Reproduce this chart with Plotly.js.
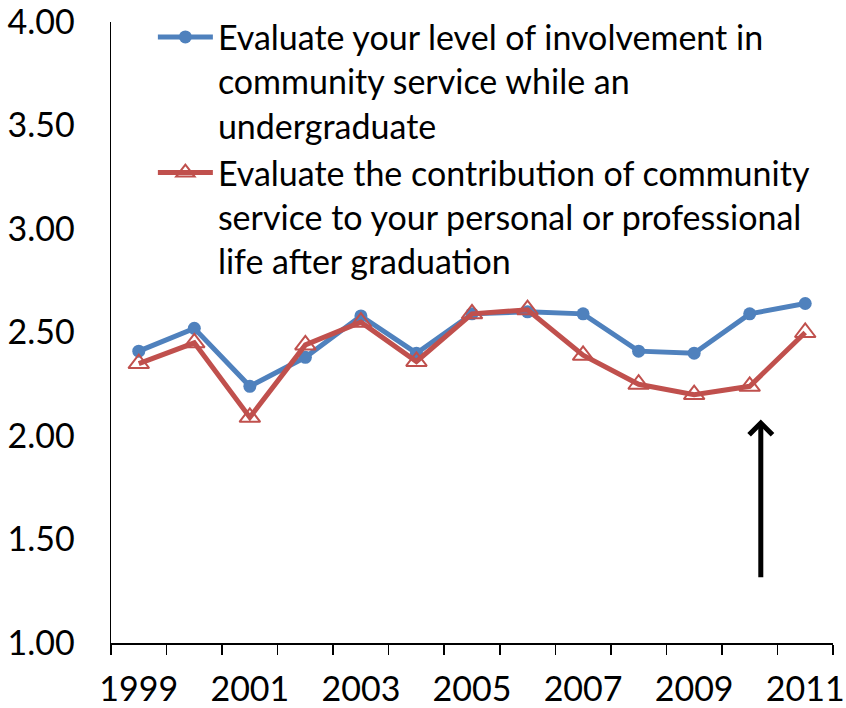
<!DOCTYPE html>
<html>
<head>
<meta charset="utf-8">
<script src="https://cdn.plot.ly/plotly-3.0.1.min.js"></script>
<style>html,body{margin:0;padding:0;background:#fff;}#chart{width:846px;height:708px;}</style>
</head>
<body>
<div id="chart"></div>
<script>
const years = [1999, 2000, 2001, 2002, 2003, 2004, 2005, 2006, 2007, 2008, 2009, 2010, 2011];
const involvement = [2.41, 2.52, 2.24, 2.38, 2.58, 2.40, 2.59, 2.60, 2.59, 2.41, 2.40, 2.59, 2.64];
const contribution = [2.35, 2.45, 2.09, 2.44, 2.55, 2.36, 2.59, 2.61, 2.39, 2.25, 2.20, 2.24, 2.50];
const seriesNames = [
  'Evaluate your level of involvement in<br>community service while an<br>undergraduate',
  'Evaluate the contribution of community<br>service to your personal or professional<br>life after graduation'
];
const labelYears = [1999, 2001, 2003, 2005, 2007, 2009, 2011];
const labelText = labelYears.map(String);
const boundaries = years.map(y => y - 0.5).concat([years[years.length - 1] + 0.5]);

const FONT = 'Lato, "Open Sans", sans-serif';
const FS = 34;

const traces = [
  {
    x: years, y: involvement, name: seriesNames[0], type: 'scatter', mode: 'lines+markers',
    line: {color: '#4F81BD', width: 5},
    marker: {color: '#4F81BD', size: 13, symbol: 'circle'},
    legendgroup: 'a'
  },
  {
    x: years, y: contribution, name: seriesNames[1], type: 'scatter', mode: 'lines+markers',
    line: {color: '#C0504D', width: 5},
    marker: {color: '#C0504D', size: 18, symbol: 'triangle-up-open', line: {width: 2, color: '#C0504D'}},
    legendgroup: 'b'
  }
];

const layout = {
  width: 846, height: 708,
  margin: {l: 111, r: 13, t: 22, b: 65, autoexpand: false},
  paper_bgcolor: '#ffffff', plot_bgcolor: '#ffffff',
  font: {family: FONT, size: FS, color: '#000'},
  showlegend: true,
  legend: {
    x: 0.058, y: 1.022, xanchor: 'left', yanchor: 'top',
    bgcolor: 'rgba(0,0,0,0)', borderwidth: 0,
    font: {family: FONT, size: FS, color: '#000'},
    itemwidth: 55, valign: 'top', traceorder: 'grouped', tracegroupgap: 0
  },
  xaxis: {
    range: [boundaries[0], boundaries[boundaries.length - 1]],
    tickmode: 'array', tickvals: labelYears, ticktext: labelText,
    ticks: '', ticklabelstandoff: 16, automargin: false, ticklabeloverflow: 'allow',
    showline: true, linecolor: '#000', linewidth: 1.5,
    showgrid: false, zeroline: false,
    tickfont: {family: FONT, size: FS, color: '#000'},
    minor: {tickmode: 'array', tickvals: boundaries, ticks: 'outside', ticklen: 10, tickwidth: 1.5, tickcolor: '#000', showgrid: false},
    fixedrange: true
  },
  yaxis: {
    range: [1, 4], dtick: 0.5, tick0: 1, tickformat: '.2f',
    tickmode: 'linear',
    ticks: '', ticklabelstandoff: 28, automargin: false, ticklabeloverflow: 'allow',
    showline: true, linecolor: '#000', linewidth: 1.5,
    showgrid: false, zeroline: false,
    tickfont: {family: FONT, size: FS, color: '#000'},
    fixedrange: true
  },
  annotations: [{
    x: 2010.2, y: 2.08, xref: 'x', yref: 'y',
    ax: 2010.2, ay: 1.31, axref: 'x', ayref: 'y',
    showarrow: true, arrowhead: 4, arrowsize: 0.9, arrowwidth: 5, arrowcolor: '#000', text: ''
  }]
};

Plotly.newPlot('chart', traces, layout, {displayModeBar: false, staticPlot: true});
</script>
</body>
</html>
